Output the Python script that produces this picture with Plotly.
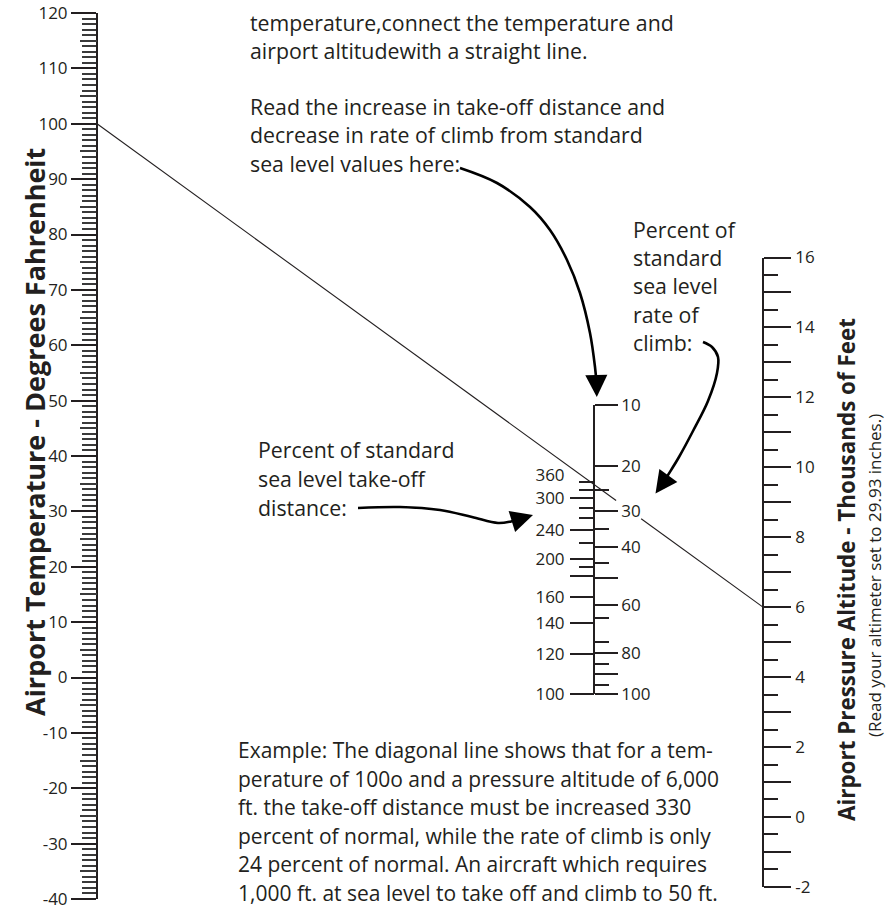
import numpy as np
import plotly.graph_objects as go

# ---------------- data (scale values and labels) ----------------
temp_major = list(range(-40, 121, 10))                 # labelled, degrees F
temp_mid = list(range(-35, 120, 10))                   # 5-degree marks
temp_minor = [t for t in range(-40, 121) if t % 5 != 0]

alt_major = list(range(-2, 17))                        # thousands of feet
alt_labels = [str(v) if v % 2 == 0 else "" for v in alt_major]
alt_minor = [v + 0.5 for v in range(-2, 16)]

climb_major = [10, 20, 30, 40, 50, 60, 80, 90, 100]    # % of std rate of climb
climb_labels = ["10", "20", "30", "40", "", "60", "80", "", "100"]
climb_minor = [25, 35, 45, 65, 75, 85, 95]

takeoff_major = [100, 120, 140, 160, 180, 200, 240, 300]   # % of std take-off distance
takeoff_labels = ["100", "120", "140", "160", "", "200", "240", "300"]
takeoff_minor = [190, 220, 260, 280, 320, 340]
takeoff_top = [360]

example_temp = 100     # deg F
example_alt = 6        # thousand ft

top_lines = ["temperature,connect the temperature and",
             "airport altitudewith a straight line."]
read_lines = ["Read the increase in take-off distance and",
              "decrease in rate of climb from standard",
              "sea level values here:"]
climb_note = ["Percent of", "standard", "sea level", "rate of", "climb:"]
takeoff_note = ["Percent of standard", "sea level take-off", "distance:"]
example_lines = ["Example: The diagonal line shows that for a tem-",
                 "perature of 100o and a pressure altitude of 6,000",
                 "ft. the take-off distance must be increased 330",
                 "percent of normal, while the rate of climb is only",
                 "24 percent of normal. An aircraft which requires",
                 "1,000 ft. at sea level to take off and climb to 50 ft."]

# ---------------- layout geometry ----------------
W, H = 887, 906
FONT = "Open Sans"
INK = "#231f20"

def pyf(px):            # pixel row -> paper fraction
    return 1 - px / H

TEMP_X, TEMP_TOP, TEMP_BOT = 97, 13, 899          # 120 F .. -40 F
ALT_X, ALT_TOP, ALT_BOT = 763, 257.5, 886.9       # 16 .. -2
MID_X, CLIMB_TOP, MID_BOT = 594, 405, 694.3
TAKEOFF_PX_PER_U = 463.3
TAKEOFF_URANGE = 0.5

def climb_u(v):
    return np.asarray(v, dtype=float) ** 0.4

def takeoff_u(v):
    return 1 - np.sqrt(100.0 / np.asarray(v, dtype=float))

def temp_px(t):
    return TEMP_TOP + (120 - t) / 160 * (TEMP_BOT - TEMP_TOP)

def alt_px(a):
    return ALT_TOP + (16 - a) / 18 * (ALT_BOT - ALT_TOP)

fig = go.Figure()

# dummy traces so each scale axis is rendered
for ya in ["y2", "y3", "y4", "y5", "y6", "y7"]:
    fig.add_trace(go.Scatter(x=[None], y=[None], xaxis="x", yaxis=ya,
                             showlegend=False, hoverinfo="skip"))

# diagonal example line (between the two outer scales), gap behind "30" label
x0, y0 = TEMP_X, temp_px(example_temp)
x1, y1 = ALT_X, alt_px(example_alt)
xs = np.linspace(x0, x1, 400)
ys = y0 + (xs - x0) / (x1 - x0) * (y1 - y0)
ys = np.where((xs > 617) & (xs < 640), np.nan, ys)
fig.add_trace(go.Scatter(x=xs, y=ys, mode="lines", line=dict(color=INK, width=1.1),
                         showlegend=False, hoverinfo="skip", connectgaps=False))

# curved arrows (bodies)
arrow_paths = [
    [(460, 168), (497, 183), (530, 207), (550, 230), (567, 260), (580, 293),
     (590, 333), (595, 367), (596.5, 383)],
    [(703, 342), (712, 347), (718, 357), (717, 373), (708, 401), (693, 431),
     (679, 457), (668, 475), (663, 483)],
    [(358, 508), (400, 507), (440, 510), (472, 517), (498, 523), (511, 521.5),
     (520, 519)],
]
arrow_tips = [(596.8, 397), (655.5, 493.5), (533, 515)]
for path, tip in zip(arrow_paths, arrow_tips):
    fig.add_trace(go.Scatter(x=[p[0] for p in path], y=[p[1] for p in path],
                             mode="lines", line=dict(color="black", width=2.6, shape="spline"),
                             showlegend=False, hoverinfo="skip"))
    fig.add_annotation(x=tip[0], y=tip[1], ax=path[-1][0], ay=path[-1][1],
                       xref="x", yref="y", axref="x", ayref="y", text="",
                       showarrow=True, arrowhead=2, arrowsize=1.7, arrowwidth=2.6,
                       arrowcolor="black")

# text blocks
BODY = 21.3
def add_lines(lines, x, y_first, step, size=BODY):
    for i, s in enumerate(lines):
        fig.add_annotation(x=x, y=y_first + i * step, xref="x", yref="y", text=s,
                           showarrow=False, xanchor="left", yanchor="middle",
                           font=dict(family=FONT, size=size, color=INK))

add_lines(top_lines, 248, 22, 28.5)
add_lines(read_lines, 248, 106, 28.8)
add_lines(climb_note, 631, 229, 28.4)
add_lines(takeoff_note, 256, 449, 29)
add_lines(example_lines, 236, 750, 28.5, size=21)

# axis titles
fig.add_annotation(x=34, y=432, xref="x", yref="y", text="<b>Airport Temperature - Degrees Fahrenheit</b>",
                   textangle=-90, showarrow=False, font=dict(family=FONT, size=27, color=INK))
fig.add_annotation(x=846, y=570, xref="x", yref="y", text="<b>Airport Pressure Altitude - Thousands of Feet</b>",
                   textangle=-90, showarrow=False, font=dict(family=FONT, size=22.4, color=INK))
fig.add_annotation(x=874, y=576, xref="x", yref="y", text="(Read your altimeter set to 29.93 inches.)",
                   textangle=-90, showarrow=False, font=dict(family=FONT, size=17, color=INK))

tickfont = dict(family=FONT, size=17, color=INK)
common = dict(anchor="free", showgrid=False, zeroline=False, automargin=False,
              fixedrange=True, tickfont=tickfont, tickmode="array",
              ticklabeloverflow="allow")

temp_dom = [pyf(TEMP_BOT), pyf(TEMP_TOP)]
alt_dom = [pyf(ALT_BOT), pyf(ALT_TOP)]
climb_dom = [pyf(MID_BOT), pyf(CLIMB_TOP)]
take_dom = [pyf(MID_BOT), pyf(MID_BOT - TAKEOFF_URANGE * TAKEOFF_PX_PER_U)]

fig.update_layout(
    template="none",
    width=W, height=H, margin=dict(l=0, r=0, t=0, b=0, pad=0, autoexpand=False),
    paper_bgcolor="white", plot_bgcolor="rgba(0,0,0,0)", showlegend=False,
    xaxis=dict(range=[0, W], domain=[0, 1], visible=False, fixedrange=True, automargin=False),
    yaxis=dict(range=[H, 0], domain=[0, 1], visible=False, fixedrange=True, automargin=False),
    yaxis2=dict(common, position=TEMP_X / W, side="left", range=[-40, 120], domain=temp_dom,
                showline=True, linewidth=2, linecolor=INK,
                ticks="outside", ticklen=25, tickwidth=1.5, tickcolor=INK,
                ticklabelstandoff=0,
                tickvals=temp_major, ticktext=[str(v) for v in temp_major],
                minor=dict(tickmode="array", tickvals=temp_minor, ticks="outside",
                           ticklen=14, tickwidth=1.6, tickcolor="#3a3a3a")),
    yaxis3=dict(common, position=TEMP_X / W, side="left", range=[-40, 120], domain=temp_dom,
                showline=False, ticks="outside", ticklen=17, tickwidth=1.6, tickcolor="#3a3a3a",
                tickvals=temp_mid, showticklabels=False),
    yaxis4=dict(common, position=ALT_X / W, side="right", range=[-2, 16], domain=alt_dom,
                showline=True, linewidth=1.6, linecolor=INK,
                ticks="outside", ticklen=27, tickwidth=1.5, tickcolor=INK,
                ticklabelstandoff=1,
                tickvals=alt_major, ticktext=alt_labels,
                minor=dict(tickmode="array", tickvals=alt_minor, ticks="outside",
                           ticklen=14, tickwidth=1.5, tickcolor=INK)),
    yaxis5=dict(common, position=MID_X / W, side="right",
                range=[float(climb_u(100)), float(climb_u(10))], domain=climb_dom,
                showline=True, linewidth=1.6, linecolor=INK,
                ticks="outside", ticklen=23, tickwidth=1.5, tickcolor=INK,
                ticklabelstandoff=0,
                tickvals=climb_u(climb_major).tolist(), ticktext=climb_labels,
                minor=dict(tickmode="array", tickvals=climb_u(climb_minor).tolist(),
                           ticks="outside", ticklen=14, tickwidth=1.5, tickcolor=INK)),
    yaxis6=dict(common, position=MID_X / W, side="left",
                range=[0, TAKEOFF_URANGE], domain=take_dom, showline=False,
                ticks="outside", ticklen=24, tickwidth=1.5, tickcolor=INK,
                ticklabelstandoff=2,
                tickvals=takeoff_u(takeoff_major).tolist(), ticktext=takeoff_labels,
                minor=dict(tickmode="array", tickvals=takeoff_u(takeoff_minor).tolist(),
                           ticks="outside", ticklen=15, tickwidth=1.5, tickcolor=INK)),
    yaxis7=dict(common, position=MID_X / W, side="left",
                range=[0, TAKEOFF_URANGE], domain=take_dom, showline=False,
                ticks="outside", ticklen=24, tickwidth=1, tickcolor="rgba(0,0,0,0)",
                ticklabelstandoff=2,
                tickvals=takeoff_u(takeoff_top).tolist(), ticktext=[str(v) for v in takeoff_top]),
)

fig.write_html("out.html", config={"displayModeBar": False},
               post_script="document.body.style.margin='0px';document.body.style.overflow='hidden';")
